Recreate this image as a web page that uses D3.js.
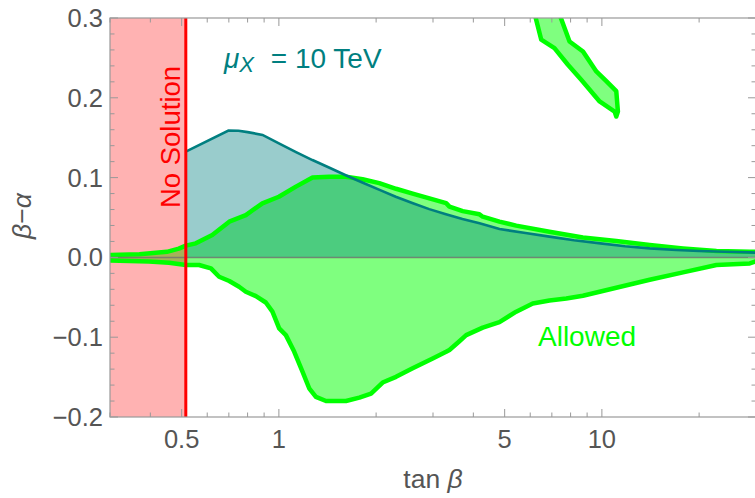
<!DOCTYPE html>
<html><head><meta charset="utf-8">
<script src="https://cdn.jsdelivr.net/npm/d3@7"></script>
<style>body{margin:0;background:#fff}svg{display:block}text{font-family:"Liberation Sans",Arial,sans-serif}</style>
</head><body>
<svg id="c" width="755" height="498"></svg>
<script>
// ---- data (tan beta, beta-alpha) ----
const xMajorTicks = [0.5, 1, 5, 10];
const xMinorTicks = [0.3, 0.4, 0.6, 0.7, 0.8, 0.9, 2, 3, 4, 6, 7, 8, 9, 20, 30];
const yMajorTicks = [-0.2, -0.1, 0.0, 0.1, 0.2, 0.3];
const yTickLabels = ["\u22120.2", "\u22120.1", "0.0", "0.1", "0.2", "0.3"];
const noSolutionEdge = 0.515;

const allowedUpper = [[0.3,0.003],[0.37,0.004],[0.45,0.007],[0.49,0.011],[0.515,0.0147],[0.553,0.0176],[0.622,0.028],[0.702,0.0448],[0.79,0.053],[0.889,0.0678],[1.0,0.076],[1.129,0.0887],[1.271,0.1],[1.432,0.101],[1.613,0.101],[1.816,0.098],[2.046,0.093],[2.305,0.086],[2.595,0.080],[2.924,0.074],[3.294,0.068],[3.373,0.0636],[3.709,0.058],[4.178,0.054],[4.277,0.051],[4.818,0.0448],[5.429,0.0398],[6.88,0.0322],[8.734,0.025],[11.08,0.0206],[14.06,0.0155],[17.83,0.0113],[22.63,0.008],[28.7,0.007],[30,0.007]];
const allowedLower = [[0.3,-0.004],[0.396,-0.005],[0.457,-0.0067],[0.515,-0.0095],[0.566,-0.0095],[0.616,-0.0138],[0.653,-0.0242],[0.702,-0.0296],[0.753,-0.0368],[0.79,-0.043],[0.849,-0.0485],[0.911,-0.0565],[0.955,-0.068],[1.002,-0.089],[1.051,-0.0974],[1.115,-0.118],[1.184,-0.1434],[1.241,-0.164],[1.302,-0.1748],[1.399,-0.18],[1.613,-0.18],[1.774,-0.1757],[1.929,-0.1706],[2.095,-0.1568],[2.305,-0.1497],[2.595,-0.139],[2.994,-0.1267],[3.294,-0.1183],[3.373,-0.116],[3.622,-0.105],[3.80,-0.0974],[4.277,-0.088],[4.818,-0.081],[5.429,-0.068],[6.11,-0.0577],[6.88,-0.054],[7.757,-0.0514],[8.734,-0.048],[11.08,-0.038],[14.06,-0.028],[17.83,-0.0188],[22.63,-0.0095],[28.7,-0.0075],[30,-0.005]];
const islandLeft = [[6.15,0.31],[6.49,0.2728],[7.13,0.2622],[7.85,0.2414],[8.63,0.2226],[9.84,0.1954],[10.95,0.1828],[11.08,0.1765]];
const islandRight = [[7.31,0.31],[7.94,0.2706],[8.74,0.258],[9.61,0.233],[10.32,0.2208],[11.08,0.2083],[11.21,0.1828]];
const tealCurve = [[0.515,0.1326],[0.698,0.159],[0.75,0.1588],[0.8,0.157],[0.89,0.1535],[1.0,0.143],[1.13,0.132],[1.27,0.122],[1.44,0.112],[1.61,0.103],[1.82,0.0935],[2.05,0.0846],[2.3,0.076],[2.6,0.0678],[2.92,0.0605],[3.29,0.054],[3.7,0.048],[4.18,0.0427],[4.82,0.0356],[5.8,0.0305],[6.88,0.026],[8.2,0.0215],[9.9,0.0176],[11.8,0.014],[14.06,0.0113],[17,0.0093],[20,0.008],[24,0.007],[28.6,0.0063],[30,0.006]];

// ---- layout ----
const L = 110, R = 756, T = 18, B = 417;
const svg = d3.select("#c");
const x = d3.scaleLog().domain([0.3, 30]).range([L, R]);
const y = d3.scaleLinear().domain([-0.2, 0.3]).range([B, T]);

svg.append("clipPath").attr("id","clip").append("rect")
  .attr("x", L).attr("y", T).attr("width", R - L).attr("height", B - T);
const g = svg.append("g").attr("clip-path", "url(#clip)");

const line = d3.line().x(d => x(d[0])).y(d => y(d[1]));
const GREEN = "#00ff00", TEAL = "#007f80";

// allowed region fill
const allowedPoly = allowedUpper.concat(allowedLower.slice().reverse());
g.append("path").attr("d", line(allowedPoly) + "Z").attr("fill", GREEN).attr("fill-opacity", 0.5);
const islandPoly = islandLeft.concat(islandRight.slice().reverse());
g.append("path").attr("d", line(islandPoly) + "Z").attr("fill", GREEN).attr("fill-opacity", 0.5);

// teal region fill
const tealArea = d3.area().x(d => x(d[0])).y0(y(0)).y1(d => y(d[1]));
g.append("path").attr("d", tealArea(tealCurve)).attr("fill", TEAL).attr("fill-opacity", 0.4);

// no solution region
g.append("rect").attr("x", x(0.3)).attr("y", T).attr("width", x(noSolutionEdge) - x(0.3)).attr("height", B - T)
  .attr("fill", "#ff0000").attr("fill-opacity", 0.3);

// boundary lines
[allowedUpper, allowedLower].forEach(a => g.append("path").attr("d", line(a)).attr("fill","none")
  .attr("stroke", GREEN).attr("stroke-width", 4.5).attr("stroke-linejoin","round"));
g.append("path").attr("d", line(islandPoly) + "Z").attr("fill","none").attr("stroke", GREEN)
  .attr("stroke-width", 4.5).attr("stroke-linejoin","round");
g.append("path").attr("d", line(tealCurve)).attr("fill","none").attr("stroke", TEAL).attr("stroke-width", 2.6);

// zero line
g.append("line").attr("x1", L).attr("x2", R).attr("y1", y(0)).attr("y2", y(0))
  .attr("stroke", "#707070").attr("stroke-opacity", 0.8).attr("stroke-width", 1.5);

// red line
g.append("line").attr("x1", x(noSolutionEdge)).attr("x2", x(noSolutionEdge)).attr("y1", T).attr("y2", B)
  .attr("stroke", "#ff0000").attr("stroke-width", 3);

// ---- frame & ticks ----
const AX = "#999999", TX = "#555555";
svg.append("rect").attr("x", L).attr("y", T).attr("width", R - L).attr("height", B - T)
  .attr("fill", "none").attr("stroke", AX).attr("stroke-width", 1.2);

const yMinor = d3.range(-0.2, 0.3001, 0.02).map(v => +v.toFixed(3));
const tk = svg.append("g").attr("stroke", AX).attr("stroke-width", 1);
yMinor.forEach(v => {
  const major = yMajorTicks.some(m => Math.abs(m - v) < 1e-6);
  const len = major ? 8 : 4.5;
  tk.append("line").attr("x1", L).attr("x2", L + len).attr("y1", y(v)).attr("y2", y(v));
  tk.append("line").attr("x1", R - len).attr("x2", R).attr("y1", y(v)).attr("y2", y(v));
});
xMajorTicks.forEach(v => {
  tk.append("line").attr("x1", x(v)).attr("x2", x(v)).attr("y1", B).attr("y2", B - 8);
  tk.append("line").attr("x1", x(v)).attr("x2", x(v)).attr("y1", T).attr("y2", T + 8);
});
xMinorTicks.forEach(v => {
  tk.append("line").attr("x1", x(v)).attr("x2", x(v)).attr("y1", B).attr("y2", B - 4.5);
  tk.append("line").attr("x1", x(v)).attr("x2", x(v)).attr("y1", T).attr("y2", T + 4.5);
});

// tick labels
const FS = 25.5;
yMajorTicks.forEach((v, i) => {
  svg.append("text").attr("x", 103).attr("y", y(v) + 9).attr("text-anchor", "end")
    .attr("font-size", FS).attr("fill", TX).text(yTickLabels[i]);
});
xMajorTicks.forEach(v => {
  svg.append("text").attr("x", x(v)).attr("y", 448).attr("text-anchor", "middle")
    .attr("font-size", FS).attr("fill", TX).text(String(v));
});

// axis titles
const xt = svg.append("text").attr("x", (L + R) / 2).attr("y", 488).attr("text-anchor", "middle")
  .attr("font-size", 26.5).attr("fill", TX);
xt.append("tspan").text("tan ");
xt.append("tspan").attr("font-style", "italic").text("\u03b2");
const yt = svg.append("text").attr("transform", "translate(31,216) rotate(-90)").attr("text-anchor", "middle")
  .attr("font-size", 26.5).attr("fill", TX);
yt.append("tspan").attr("font-style", "italic").text("\u03b2");
yt.append("tspan").text("\u2212");
yt.append("tspan").attr("font-style", "italic").text("\u03b1");

// annotations
svg.append("text").attr("transform", "translate(180,137) rotate(-90)").attr("text-anchor", "middle")
  .attr("font-size", 27.5).attr("fill", "#ff0000").text("No Solution");
svg.append("text").attr("x", 538).attr("y", 346).attr("font-size", 28).attr("fill", GREEN).text("Allowed");
const mu = svg.append("text").attr("x", 224).attr("y", 68).attr("font-size", 28).attr("fill", TEAL);
mu.append("tspan").attr("font-style", "italic").text("\u03bc");
mu.append("tspan").attr("font-style", "italic").attr("font-size", 22).attr("dy", 4).text("X");
mu.append("tspan").attr("dy", -4).attr("dx", 9).text(" = 10 TeV");
</script>
</body></html>
